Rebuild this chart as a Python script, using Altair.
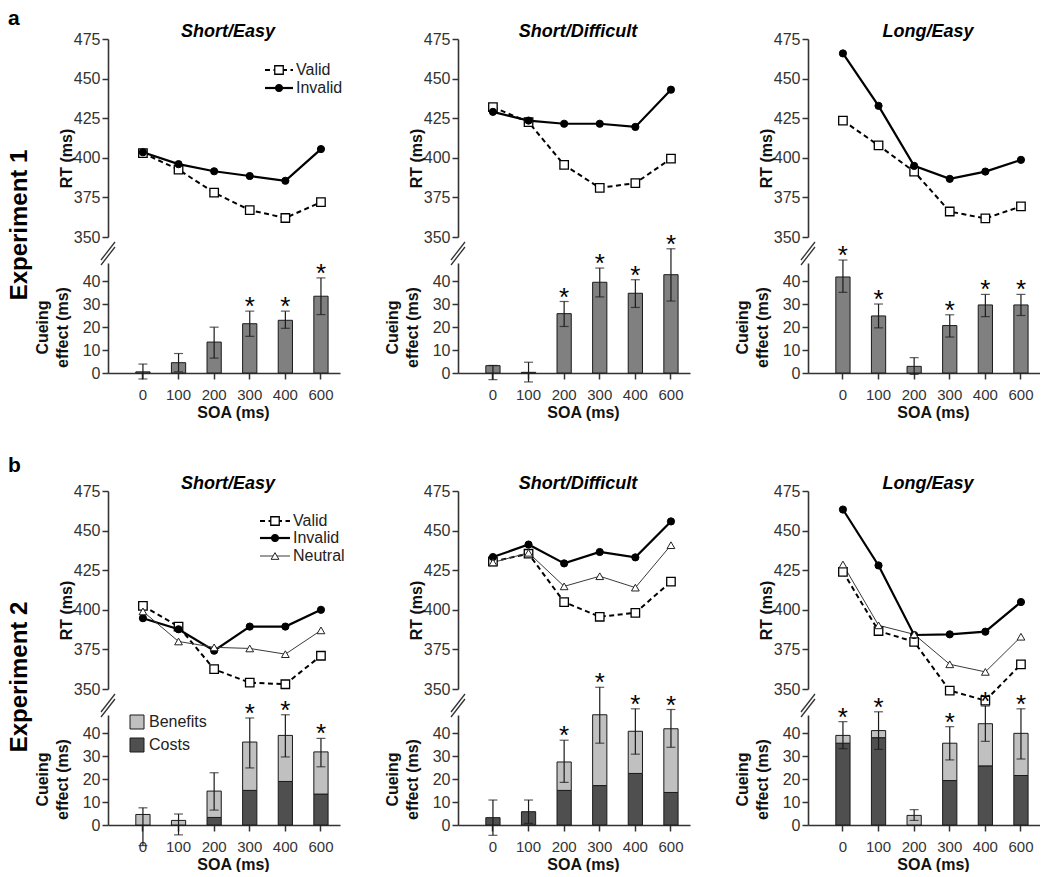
import altair as alt
import pandas as pd

# ---------------- data ----------------
SOA = ["0", "100", "200", "300", "400", "600"]
RT_TICKS = [350, 375, 400, 425, 450, 475]
EFF_TICKS = [0, 10, 20, 30, 40]
CONDITIONS = ["Short/Easy", "Short/Difficult", "Long/Easy"]

# Experiment 1 - RT (ms)
E1_SE_VALID = [403, 392.5, 378, 367, 362, 372]
E1_SE_INVALID = [403.5, 396, 391.5, 388.5, 385.5, 405.5]
E1_SD_VALID = [432, 422.5, 395.5, 381, 384, 399.5]
E1_SD_INVALID = [429, 423.5, 421.5, 421.5, 419.5, 443]
E1_LE_VALID = [423.5, 407.8, 391.3, 366.1, 361.7, 369.3]
E1_LE_INVALID = [465.9, 432.8, 394.9, 386.7, 391.3, 398.7]

# Experiment 1 - cueing effect (ms)
E1_SE_EFFECT = [0.5, 4.5, 13.5, 21.5, 23, 33.5]
E1_SE_LO = [-2.6, 0.5, 6.5, 16, 19.5, 25.5]
E1_SE_HI = [3.9, 8.5, 20, 27, 27, 41.5]
E1_SE_SIG = [0, 0, 0, 1, 1, 1]
E1_SD_EFFECT = [3.2, 0.3, 25.9, 39.6, 34.8, 42.9]
E1_SD_LO = [-2.9, -3.9, 20.3, 33.2, 28.6, 31.4]
E1_SD_HI = [3.3, 4.7, 31.2, 45.8, 40.7, 54.2]
E1_SD_SIG = [0, 0, 1, 1, 1, 1]
E1_LE_EFFECT = [41.9, 24.9, 2.9, 20.7, 29.7, 29.7]
E1_LE_LO = [35.2, 19.7, -0.6, 15.7, 24.6, 25.1]
E1_LE_HI = [49.3, 30.1, 6.7, 25.4, 34.3, 34.3]
E1_LE_SIG = [1, 1, 0, 1, 1, 1]

# Experiment 2 - RT (ms)
E2_SE_VALID = [402.5, 389.4, 362.5, 354, 353, 371]
E2_SE_INVALID = [394.7, 387.7, 374.2, 389.4, 389.4, 400]
E2_SE_NEUTRAL = [399, 380, 376.3, 375.6, 372, 387]
E2_SD_VALID = [430.5, 435.4, 404.9, 395.6, 398.1, 417.8]
E2_SD_INVALID = [433.3, 441.2, 429.3, 436.5, 433.1, 455.8]
E2_SD_NEUTRAL = [429.9, 436.0, 414.8, 421.2, 414.0, 440.8]
E2_LE_VALID = [424, 386.6, 379.8, 349, 342.7, 365.6]
E2_LE_INVALID = [463.3, 428.0, 384.1, 384.5, 386.2, 404.9]
E2_LE_NEUTRAL = [428.6, 390.2, 384.5, 365.6, 360.8, 383]

# Experiment 2 - costs / benefits (ms)
E2_SE_COSTS = [0, 0, 3.3, 15.1, 19, 13.5]
E2_SE_BENEFITS = [4.6, 2.0, 11.5, 21.1, 20.1, 18.4]
E2_SE_LO = [-9, -4.3, 6.5, 24.9, 29.7, 25.4]
E2_SE_HI = [7.5, 4.8, 22.8, 46.7, 48.1, 37.8]
E2_SE_SIG = [0, 0, 0, 1, 1, 1]
E2_SD_COSTS = [3.2, 5.8, 15.1, 17.2, 22.5, 14.2]
E2_SD_BENEFITS = [0, 0, 12.4, 30.9, 18.4, 27.8]
E2_SD_LO = [-4.5, 0.7, 18.6, 35.7, 30.9, 33.9]
E2_SD_HI = [10.9, 10.9, 37, 60.1, 50.7, 50.4]
E2_SD_SIG = [0, 0, 1, 1, 1, 1]
E2_LE_COSTS = [35.7, 38.1, 0, 19.4, 25.8, 21.6]
E2_LE_BENEFITS = [3.4, 3.1, 4.2, 16.3, 18.4, 18.4]
E2_LE_LO = [33.3, 33, 2.0, 28.4, 36.5, 28.8]
E2_LE_HI = [45.1, 49.4, 6.7, 42.9, 51.9, 50.7]
E2_LE_SIG = [1, 1, 0, 1, 1, 1]

# ---------------- layout / style ----------------
FONT = "Liberation Sans"
W, H_LINE, H_BAR = 232, 198, 110
ROW_SP = 26          # between RT panel and effect panel
H_SPACER = 66        # extra gap between experiments
COL_GAP = 118

BAR_E1 = "#808080"
BAR_COST = "#4f4f4f"
BAR_BEN = "#c0c0c0"
INK = "#1a1a1a"

XSCALE = alt.Scale(type="band", domain=SOA, paddingInner=0.6,
                   paddingOuter=0.558, align=0.70)

STYLE = {
    "Valid": (dict(color="black", strokeWidth=2, strokeDash=[5, 3.5]),
              dict(shape="square", filled=True, fill="white", stroke="black",
                   strokeWidth=1.3, size=72, opacity=1)),
    "Invalid": (dict(color="black", strokeWidth=2.2),
                dict(shape="circle", filled=True, fill="black", stroke="black",
                     strokeWidth=1, size=52, opacity=1)),
    "Neutral": (dict(color="#3a3a3a", strokeWidth=1),
                dict(shape="triangle-up", filled=True, fill="white", stroke="#222",
                     strokeWidth=1, size=60, opacity=1)),
}


def one(label):
    return alt.Chart(pd.DataFrame({"t": [label]}))


def xpos(axis=None, center=True):
    if center:
        return alt.X("soa:N", sort=SOA, scale=XSCALE, axis=axis, bandPosition=0.5)
    return alt.X("soa:N", sort=SOA, scale=XSCALE, axis=axis)


def rt_panel(title, series, legend=None, letter=None, exp_label=None):
    rows = []
    for cond, vals in series:
        for s, v in zip(SOA, vals):
            rows.append({"soa": s, "cond": cond, "rt": v})
    df = pd.DataFrame(rows)
    yax = alt.Axis(values=RT_TICKS, title="RT (ms)", titleX=-37, titleY=119,
                   titleBaseline="alphabetic", titleAlign="center")
    y = alt.Y("rt:Q", scale=alt.Scale(domain=[350, 475], nice=False, zero=False),
              axis=yax)
    layers = []
    for cond, _ in series:
        ls, _p = STYLE[cond]
        layers.append(alt.Chart(df).transform_filter(alt.datum.cond == cond)
                      .mark_line(clip=False, **ls).encode(x=xpos(), y=y))
    for cond, _ in series:
        _l, ps = STYLE[cond]
        layers.append(alt.Chart(df).transform_filter(alt.datum.cond == cond)
                      .mark_point(clip=False, **ps).encode(x=xpos(), y=y))
    layers.append(one(title).mark_text(font=FONT, fontSize=18, fontWeight="bold",
                                       fontStyle="italic", align="center",
                                       baseline="alphabetic", color="black")
                  .encode(x=alt.value(120), y=alt.value(-2), text="t:N"))
    if legend:
        x0, x1, xm, xt, ys = legend
        for (cond, _), yy in zip(series, ys):
            ls, ps = STYLE[cond]
            layers.append(one(cond).mark_rule(**ls).encode(
                x=alt.value(x0), x2=alt.value(x1), y=alt.value(yy), y2=alt.value(yy)))
            layers.append(one(cond).mark_point(**ps).encode(
                x=alt.value(xm), y=alt.value(yy)))
            layers.append(one(cond).mark_text(font=FONT, fontSize=16, color="#222",
                                              align="left", baseline="middle")
                          .encode(x=alt.value(xt), y=alt.value(yy), text="t:N"))
    if letter:
        txt, ly = letter
        layers.append(one(txt).mark_text(font=FONT, fontSize=21, fontWeight="bold",
                                         align="left", baseline="alphabetic",
                                         color="black")
                      .encode(x=alt.value(-100), y=alt.value(ly), text="t:N"))
    if exp_label:
        layers.append(one(exp_label).mark_text(font=FONT, fontSize=24,
                                               fontWeight="bold", angle=270,
                                               align="center", baseline="middle",
                                               color="black")
                      .encode(x=alt.value(-88), y=alt.value(186), text="t:N"))
    return alt.layer(*layers).properties(width=W, height=H_LINE)


def eff_panel(dark, light, lo, hi, sig, dark_color, legend=False):
    df = pd.DataFrame({"soa": SOA, "dark": dark, "light": light,
                       "lo": lo, "hi": hi, "sig": sig})
    yax = alt.Axis(values=EFF_TICKS, title=["Cueing", "effect (ms)"],
                   titleX=-61, titleY=64, titleBaseline="alphabetic",
                   titleAlign="center", titleLineHeight=20)
    ys = alt.Scale(domain=[0, 48], nice=False, zero=False)
    xax = alt.Axis(title="SOA (ms)", titleX=125, titleY=44,
                   titleBaseline="alphabetic", labelAngle=0, labelPadding=8,
                   labelFontSize=15, ticks=True)
    base = alt.Chart(df)
    layers = [
        base.mark_bar(fill=dark_color, stroke=INK, strokeWidth=1, clip=False)
        .encode(x=xpos(xax, center=False), y=alt.Y("dark:Q", scale=ys, axis=yax)),
    ]
    if any(v > 0 for v in light):
        layers.append(
            base.transform_filter(alt.datum.light > 0)
            .transform_calculate(top="datum.dark + datum.light")
            .mark_bar(fill=BAR_BEN, stroke=INK, strokeWidth=1, clip=False)
            .encode(x=xpos(xax, center=False),
                    y=alt.Y("dark:Q", scale=ys, axis=yax), y2="top:Q"))
    layers += [
        base.mark_rule(color=INK, strokeWidth=1.2, clip=False)
        .encode(x=xpos(xax), y=alt.Y("lo:Q", scale=ys, axis=yax), y2="hi:Q"),
        base.mark_tick(color=INK, thickness=1.2, size=9, clip=False)
        .encode(x=xpos(xax), y=alt.Y("lo:Q", scale=ys, axis=yax)),
        base.mark_tick(color=INK, thickness=1.2, size=9, clip=False)
        .encode(x=xpos(xax), y=alt.Y("hi:Q", scale=ys, axis=yax)),
        base.transform_filter(alt.datum.sig == 1)
        .mark_text(text="*", font=FONT, fontSize=26, color="black",
                   align="center", baseline="alphabetic", dy=4, clip=False)
        .encode(x=xpos(xax), y=alt.Y("hi:Q", scale=ys, axis=yax)),
        # axis break marks
        one("b1").mark_rule(color="#333", strokeWidth=1.3).encode(
            x=alt.value(-7), x2=alt.value(7), y=alt.value(2), y2=alt.value(-16)),
        one("b2").mark_rule(color="#333", strokeWidth=1.3).encode(
            x=alt.value(-7), x2=alt.value(7), y=alt.value(-3), y2=alt.value(-21)),
    ]
    if legend:
        for lab, col, yy in (("Benefits", BAR_BEN, 7), ("Costs", BAR_COST, 30)):
            layers.append(one(lab).mark_square(fill=col, stroke=INK, strokeWidth=1,
                                               size=196, opacity=1)
                          .encode(x=alt.value(29), y=alt.value(yy)))
            layers.append(one(lab).mark_text(font=FONT, fontSize=16, color="#222",
                                             align="left", baseline="middle")
                          .encode(x=alt.value(41), y=alt.value(yy), text="t:N"))
    return alt.layer(*layers).properties(width=W, height=H_BAR)


def spacer():
    return one("").mark_text().encode(text="t:N").properties(width=W, height=H_SPACER)


zeros = [0] * 6
cells = [
    # row 0: Experiment 1 RTs
    rt_panel(CONDITIONS[0], [("Valid", E1_SE_VALID), ("Invalid", E1_SE_INVALID)],
             legend=(157, 185, 171, 188, [31, 49]),
             letter=("a", -14), exp_label="Experiment 1"),
    rt_panel(CONDITIONS[1], [("Valid", E1_SD_VALID), ("Invalid", E1_SD_INVALID)]),
    rt_panel(CONDITIONS[2], [("Valid", E1_LE_VALID), ("Invalid", E1_LE_INVALID)]),
    # row 1: Experiment 1 cueing effects
    eff_panel(E1_SE_EFFECT, zeros, E1_SE_LO, E1_SE_HI, E1_SE_SIG, BAR_E1),
    eff_panel(E1_SD_EFFECT, zeros, E1_SD_LO, E1_SD_HI, E1_SD_SIG, BAR_E1),
    eff_panel(E1_LE_EFFECT, zeros, E1_LE_LO, E1_LE_HI, E1_LE_SIG, BAR_E1),
    # row 2: spacing between experiments
    spacer(), spacer(), spacer(),
    # row 3: Experiment 2 RTs
    rt_panel(CONDITIONS[0], [("Valid", E2_SE_VALID), ("Invalid", E2_SE_INVALID),
                             ("Neutral", E2_SE_NEUTRAL)],
             legend=(152, 182, 167, 185, [30, 47, 65]),
             letter=("b", -19), exp_label="Experiment 2"),
    rt_panel(CONDITIONS[1], [("Valid", E2_SD_VALID), ("Invalid", E2_SD_INVALID),
                             ("Neutral", E2_SD_NEUTRAL)]),
    rt_panel(CONDITIONS[2], [("Valid", E2_LE_VALID), ("Invalid", E2_LE_INVALID),
                             ("Neutral", E2_LE_NEUTRAL)]),
    # row 4: Experiment 2 costs / benefits
    eff_panel(E2_SE_COSTS, E2_SE_BENEFITS, E2_SE_LO, E2_SE_HI, E2_SE_SIG,
              BAR_COST, legend=True),
    eff_panel(E2_SD_COSTS, E2_SD_BENEFITS, E2_SD_LO, E2_SD_HI, E2_SD_SIG, BAR_COST),
    eff_panel(E2_LE_COSTS, E2_LE_BENEFITS, E2_LE_LO, E2_LE_HI, E2_LE_SIG, BAR_COST),
]

chart = (
    alt.concat(*cells, columns=3, spacing={"row": ROW_SP, "column": COL_GAP},
               bounds="flush", align="each")
    .properties(padding=0, background="white")
    .configure_view(stroke=None)
    .configure_axis(
        labelFont=FONT, titleFont=FONT, labelColor="#333", titleColor="#111",
        labelFontSize=16, titleFontSize=16, titleFontWeight="bold",
        domainColor="#333", domainWidth=1.6, tickColor="#333", tickWidth=1.5,
        tickSize=6, grid=False, labelPadding=2,
    )
)

chart.save("out.html", embed_options={"renderer": "svg", "actions": False})
